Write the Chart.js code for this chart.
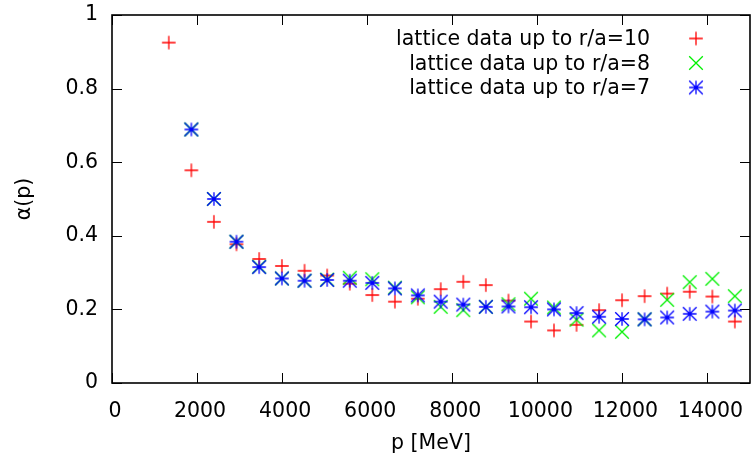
<!DOCTYPE html>
<html lang="en">
<head>
<meta charset="UTF-8" />
<title>alpha(p)</title>
<script src="https://cdn.jsdelivr.net/npm/chart.js"></script>
<style>
  html, body { margin: 0; padding: 0; background: #fff; }
  #wrap { width: 755px; height: 465px; }
</style>
</head>
<body>
<div id="wrap"><canvas id="alphaChart" width="755" height="465"></canvas></div>
<script>
// momentum grid in MeV and the coupling for the three fit ranges
const momentum = [1335, 1866, 2396, 2927, 3460, 3995, 4526, 5058, 5590, 6120, 6651, 7190, 7728,
  8259, 8790, 9321, 9852, 10391, 10921, 11452, 11991, 12522, 13052, 13583, 14114, 14644];
const alphaR10 = [0.925, 0.578, 0.438, 0.377, 0.337, 0.318, 0.305, 0.292, 0.270, 0.239, 0.221, 0.229, 0.255,
  0.275, 0.266, 0.224, 0.167, 0.143, 0.158, 0.198, 0.225, 0.236, 0.243, 0.248, 0.235, 0.167];
// r/a=8 and r/a=7 start at the second momentum
const alphaR8 = [0.689, 0.500, 0.384, 0.316, 0.284, 0.278, 0.281, 0.286, 0.282, 0.259, 0.233, 0.207,
  0.198, 0.207, 0.214, 0.229, 0.205, 0.172, 0.143, 0.139, 0.173, 0.226, 0.274, 0.283, 0.236];
const alphaR7 = [0.689, 0.500, 0.384, 0.315, 0.284, 0.278, 0.280, 0.278, 0.272, 0.257, 0.238, 0.221,
  0.213, 0.207, 0.208, 0.206, 0.200, 0.190, 0.180, 0.174, 0.173, 0.178, 0.188, 0.194, 0.197];
const seriesLabels = ['lattice data up to r/a=10', 'lattice data up to r/a=8', 'lattice data up to r/a=7'];
const xTicks = [0, 2000, 4000, 6000, 8000, 10000, 12000, 14000];
const yTicks = [0, 0.2, 0.4, 0.6, 0.8, 1];

const FONT = '"DejaVu Sans", Verdana, sans-serif';

// gnuplot style point symbols: plus, cross, asterisk
function symbol(kind, color) {
  const c = document.createElement('canvas');
  c.width = 16; c.height = 16;
  const g = c.getContext('2d');
  g.strokeStyle = color;
  g.lineWidth = 1.3;
  const m = 8, r = 6.8;
  g.beginPath();
  if (kind === 'plus' || kind === 'star') {
    g.moveTo(m - r, m); g.lineTo(m + r, m);
    g.moveTo(m, m - r); g.lineTo(m, m + r);
  }
  if (kind === 'cross' || kind === 'star') {
    g.moveTo(m - r, m - r); g.lineTo(m + r, m + r);
    g.moveTo(m - r, m + r); g.lineTo(m + r, m - r);
  }
  g.stroke();
  return c;
}

const plusRed = symbol('plus', '#ff0000');
const crossGreen = symbol('cross', '#00f000');
const starBlue = symbol('star', '#0000ff');

function pts(xs, ys) {
  return ys.map((y, i) => ({ x: xs[i], y: y }));
}

// frame with inward ticks on all four sides
const framePlugin = {
  id: 'frame',
  beforeDatasetsDraw(chart) {
    const { ctx, chartArea: a, scales } = chart;
    ctx.save();
    ctx.strokeStyle = '#000';
    ctx.lineWidth = 1;
    ctx.beginPath();
    xTicks.forEach(v => {
      const px = Math.round(scales.x.getPixelForValue(v)) + 0.5;
      ctx.moveTo(px, a.bottom); ctx.lineTo(px, a.bottom - 10);
      ctx.moveTo(px, a.top); ctx.lineTo(px, a.top + 10);
    });
    yTicks.forEach(v => {
      const py = Math.round(scales.y.getPixelForValue(v)) + 0.5;
      ctx.moveTo(a.left, py); ctx.lineTo(a.left + 10, py);
      ctx.moveTo(a.right, py); ctx.lineTo(a.right - 10, py);
    });
    ctx.stroke();
    ctx.lineWidth = 1.6;
    ctx.strokeRect(a.left, a.top, a.right - a.left, a.bottom - a.top);
    ctx.restore();
  },
  afterDatasetsDraw(chart) {
    // key in the upper right: label right aligned, symbol after it
    const { ctx } = chart;
    ctx.save();
    ctx.font = '20.5px ' + FONT;
    ctx.fillStyle = '#000';
    ctx.textAlign = 'right';
    ctx.textBaseline = 'middle';
    chart.data.datasets.forEach((ds, i) => {
      const y = 40 + i * 24.5;
      ctx.fillText(ds.label, 650, y);
      ctx.drawImage(ds.pointStyle, 696 - 8, y - 1.5 - 8);
    });
    ctx.restore();
  }
};

Chart.defaults.font.family = FONT;
Chart.defaults.font.size = 20.5;
Chart.defaults.color = '#000';

new Chart(document.getElementById('alphaChart'), {
  type: 'scatter',
  data: {
    datasets: [
      { label: seriesLabels[0], data: pts(momentum, alphaR10), pointStyle: plusRed, order: 3 },
      { label: seriesLabels[1], data: pts(momentum.slice(1), alphaR8), pointStyle: crossGreen, order: 2 },
      { label: seriesLabels[2], data: pts(momentum.slice(1), alphaR7), pointStyle: starBlue, order: 1 }
    ]
  },
  options: {
    responsive: false,
    animation: false,
    layout: { padding: { top: 15, right: 2, left: 0, bottom: 0 } },
    plugins: { legend: { display: false }, tooltip: { enabled: false } },
    scales: {
      x: {
        type: 'linear',
        min: 0, max: 15000,
        afterFit(s) { s.height = 82; s.paddingLeft = 0; s.paddingRight = 0; },
        afterBuildTicks(s) { s.ticks = xTicks.map(v => ({ value: v })); },
        grid: { display: false, drawTicks: false },
        border: { display: false },
        ticks: { padding: 16, labelOffset: 3, maxRotation: 0, autoSkip: false, callback: v => String(v) },
        title: { display: true, text: 'p [MeV]', padding: { top: 0, bottom: 9 } }
      },
      y: {
        type: 'linear',
        min: 0, max: 1,
        afterFit(s) { s.width = 112; s.paddingTop = 0; s.paddingBottom = 0; },
        afterBuildTicks(s) { s.ticks = yTicks.map(v => ({ value: v })); },
        grid: { display: false, drawTicks: false },
        border: { display: false },
        ticks: { padding: 14, autoSkip: false, callback: v => String(+v.toFixed(1)) },
        title: { display: true, text: 'α(p)', padding: { top: 12, bottom: 0 } }
      }
    }
  },
  plugins: [framePlugin]
});
</script>
</body>
</html>
